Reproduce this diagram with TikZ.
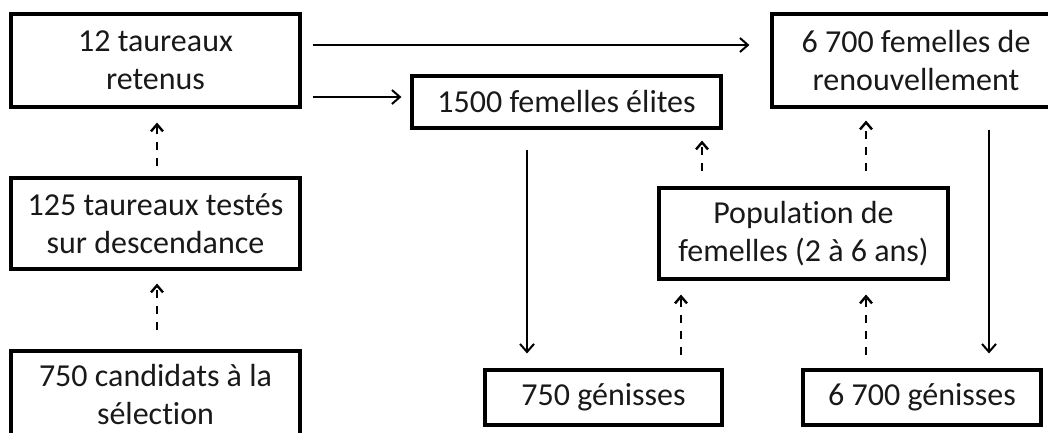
\documentclass[tikz,border=0pt]{standalone}
\usepackage{fontspec}
\setmainfont{Carlito}[RawFeature=-liga]
\usetikzlibrary{arrows.meta}
\tikzset{
  box/.style={draw=black, line width=3.1pt, align=center, inner sep=0pt,
    font=\fontsize{32}{38}\selectfont, text=black!90},
  arr/.style={line width=2pt, -{Straight Barb[length=8pt,width=14pt,line width=2pt]}},
  dasharr/.style={line width=2.5pt, dash pattern=on 8pt off 8pt,
    -{Straight Barb[length=7pt,width=12pt,line width=2.4pt]}}
}
\begin{document}
\begin{tikzpicture}[x=1pt,y=-1pt]
\useasboundingbox (0,0) rectangle (1048,432);
\clip (0,0) rectangle (1048,432);
% nodes
\node[box, minimum width=289pt, minimum height=93pt] (t12) at (155.5,60.5) {12 taureaux\\retenus};
\node[box, minimum width=289pt, minimum height=91pt] (t125) at (155.5,223.5) {125 taureaux testés\\sur descendance};
\node[box, minimum width=289pt, minimum height=86pt] (c750) at (155.5,394) {750 candidats à la\\sélection};
\node[box, minimum width=309pt, minimum height=52pt] (elites) at (566.5,102) {1500 femelles élites};
\node[box, minimum width=288pt, minimum height=93pt] (renouv) at (916,60.5) {6 700 femelles de\\renouvellement};
\node[box, minimum width=289pt, minimum height=91pt] (pop) at (803.5,233.5) {Population de\\femelles (2 à 6 ans)};
\node[box, minimum width=237pt, minimum height=55pt] (g750) at (603.5,397.5) {750 génisses};
\node[box, minimum width=238pt, minimum height=55pt] (g6700) at (922,397.5) {6 700 génisses};
% solid arrows
\coordinate (a1) at ([yshift=15.5pt]t12.east);
\draw[arr, shorten <=11pt, shorten >=21pt] (a1) -- (a1 -| renouv.west);
\coordinate (a2) at ([yshift=-36.5pt]t12.east);
\draw[arr, shorten <=11pt, shorten >=9pt] (a2) -- (a2 -| elites.west);
\coordinate (a3) at ([xshift=-39.5pt]elites.south);
\draw[arr, shorten <=20pt, shorten >=15pt] (a3) -- (a3 |- g750.north);
\coordinate (a4) at ([xshift=73pt]renouv.south);
\draw[arr, shorten <=21pt, shorten >=15pt] (a4) -- (a4 |- g6700.north);
% dashed arrows
\coordinate (d1) at ([xshift=1.5pt]t125.north);
\draw[dasharr, shorten <=10pt, shorten >=14pt] (d1) -- (d1 |- t12.south);
\coordinate (d2) at ([xshift=1.5pt]c750.north);
\draw[dasharr, shorten <=19pt, shorten >=13pt] (d2) -- (d2 |- t125.south);
\coordinate (d3) at ([xshift=-101.5pt]pop.north);
\draw[dasharr, shorten <=15pt, shorten >=11pt] (d3) -- (d3 |- elites.south);
\coordinate (d4) at ([xshift=62.5pt]pop.north);
\draw[dasharr, shorten <=15pt, shorten >=12pt] (d4) -- (d4 |- renouv.south);
\coordinate (d5) at ([xshift=77.5pt]g750.north);
\draw[dasharr, shorten <=13pt, shorten >=14pt] (d5) -- (d5 |- pop.south);
\coordinate (d6) at ([xshift=-56pt]g6700.north);
\draw[dasharr, shorten <=13pt, shorten >=14pt] (d6) -- (d6 |- pop.south);
\end{tikzpicture}
\end{document}
